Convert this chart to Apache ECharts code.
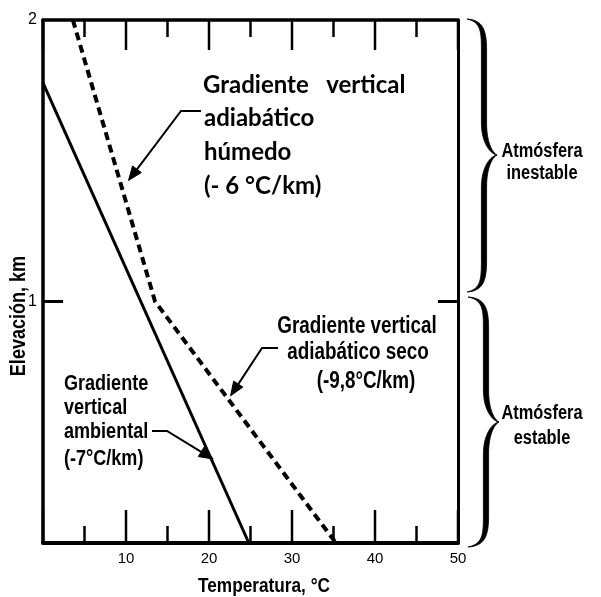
<!DOCTYPE html>
<html>
<head>
<meta charset="utf-8">
<script src="https://cdn.jsdelivr.net/npm/echarts@6/dist/echarts.min.js"></script>
<style>
  html, body { margin: 0; padding: 0; background: #fff; }
  #chart { width: 601px; height: 597px; }
</style>
</head>
<body>
<div id="chart"></div>
<script>
// Environmental lapse rate: temperature (°C) against elevation (km)
const ambientTemp = [0, 24.8];
const ambientElev = [1.777, 0.142];
// Dry adiabatic below the bend, moist adiabatic above it
const adiabaticTemp = [3.6, 13.5, 35.3];
const adiabaticElev = [2.0, 1.0, 0.142];
// Axis ticks
const tempTicks = [10, 20, 30, 40, 50];
const tempMajorTicks = [0, 10, 20, 30, 40, 50];
const tempMinorTicks = [5, 15, 25, 35, 45];
const elevTicks = [1, 2];
const elevInnerTicks = [1];
// Points on the lines that the label pointers touch (°C, km)
const pointerTips = [[10.3, 1.43], [22.6, 0.665], [20.5, 0.44]];

const X_MIN = 0, X_MAX = 50, Y_MIN = 0.142, Y_MAX = 2;

const SANS = "'Liberation Sans', Arial, Helvetica, sans-serif";
const HUMANIST = "Lato, 'Open Sans', sans-serif";
const CONDENSE = 0.82;   // horizontal squeeze for the condensed labels

function pairs(xs, ys) { return xs.map((x, i) => [x, ys[i]]); }

const chart = echarts.init(document.getElementById('chart'), null, { renderer: 'canvas' });

const frameLine = (w) => ({ show: true, onZero: false, lineStyle: { color: '#000', width: w } });

// ---- text and bracket helpers (pixel layout) ----
function text(str, x, y, opt) {
  const sx = opt.condensed ? CONDENSE : 1;
  return {
    type: 'text', x: x, y: y, z: 10,
    rotation: opt.rotation || 0, scaleX: sx, scaleY: 1,
    style: {
      text: str, fill: '#000',
      font: (opt.weight || 'bold') + ' ' + opt.size + 'px ' + opt.family,
      align: opt.align || 'left', verticalAlign: 'middle'
    }
  };
}

function sampleSegments(segs) {
  const pts = [];
  let cx = 0, cy = 0;
  segs.forEach(s => {
    if (s[0] === 'M' || s[0] === 'L') {
      cx = s[1]; cy = s[2]; pts.push([cx, cy]);
    } else {
      const [, x1, y1, x2, y2, x3, y3] = s;
      for (let k = 1; k <= 16; k++) {
        const t = k / 16, m = 1 - t;
        pts.push([
          m * m * m * cx + 3 * m * m * t * x1 + 3 * m * t * t * x2 + t * t * t * x3,
          m * m * m * cy + 3 * m * m * t * y1 + 3 * m * t * t * y2 + t * t * t * y3
        ]);
      }
      cx = x3; cy = y3;
    }
  });
  return pts;
}

// curly bracket opening to the left, point to the right; tapered outline
function brace(x0, yTop, yBot, yMid, x1, tip, h, w) {
  const o = x1 + w, i = x1 - w;
  const segs = [
    ['M', x0, yTop],
    ['C', x1, yTop + 1, o, yTop + h * 0.4, o, yTop + h],
    ['L', o, yMid - h],
    ['C', o, yMid - h * 0.35, tip - 4, yMid - 2, tip, yMid],
    ['C', tip - 4, yMid + 2, o, yMid + h * 0.35, o, yMid + h],
    ['L', o, yBot - h],
    ['C', o, yBot - h * 0.4, x1, yBot - 1, x0, yBot],
    ['C', x1 - 3, yBot - 3, i, yBot - h * 0.4, i, yBot - h],
    ['L', i, yMid + h],
    ['C', i, yMid + h * 0.4, tip - 7, yMid + 1, tip, yMid],
    ['C', tip - 7, yMid - 1, i, yMid - h * 0.4, i, yMid - h],
    ['L', i, yTop + h],
    ['C', i, yTop + h * 0.4, x1 - 3, yTop + 3, x0, yTop]
  ];
  return { type: 'polygon', z: 10, shape: { points: sampleSegments(segs) },
           style: { fill: '#000', stroke: '#000', lineWidth: 0.8 } };
}

// ---- pointers and inward frame ticks, placed through the cartesian coords ----
const pointerLeads = [
  [[201, 111], [181, 111]],
  [[278, 348], [262, 348]],
  [[152, 431], [167, 431]]
];

function pointerShapes(lead, bend, tip) {
  const dx = tip[0] - bend[0], dy = tip[1] - bend[1];
  const len = Math.hypot(dx, dy), ux = dx / len, uy = dy / len;
  const headL = 14, headW = 5.5;
  const bx = tip[0] - ux * headL, by = tip[1] - uy * headL;
  return [
    { type: 'polyline', shape: { points: [lead, bend, [bx, by]] },
      style: { stroke: '#000', lineWidth: 2, fill: 'none' } },
    { type: 'polygon',
      shape: { points: [tip, [bx - uy * headW, by + ux * headW], [bx + uy * headW, by - ux * headW]] },
      style: { fill: '#000', stroke: '#000', lineWidth: 1 } }
  ];
}

// tick mark as a thin filled bar
function bar(x, y, w, h) {
  return { type: 'rect', shape: { x: x, y: y, width: w, height: h },
           style: { fill: '#000', stroke: null } };
}

function renderAnnotations(params, api) {
  let children = [];
  // temperature ticks pointing into the frame, top and bottom
  tempMajorTicks.forEach(v => {
    const b = api.coord([v, Y_MIN]), t = api.coord([v, Y_MAX]);
    children.push(bar(b[0] - 1.25, b[1] - 33, 2.5, 33));
    children.push(bar(t[0] - 1.25, t[1], 2.5, 30));
  });
  tempMinorTicks.forEach(v => {
    const b = api.coord([v, Y_MIN]), t = api.coord([v, Y_MAX]);
    children.push(bar(b[0] - 1.25, b[1] - 17, 2.5, 17));
    children.push(bar(t[0] - 1.25, t[1], 2.5, 17));
  });
  // elevation ticks on both side frames
  elevInnerTicks.forEach(v => {
    const l = api.coord([X_MIN, v]), r = api.coord([X_MAX, v]);
    children.push(bar(l[0], l[1] - 1.5, 20, 3));
    children.push(bar(r[0] - 20, r[1] - 1.5, 20, 3));
  });
  pointerTips.forEach((t, k) => {
    children = children.concat(pointerShapes(pointerLeads[k][0], pointerLeads[k][1], api.coord(t)));
  });
  return { type: 'group', children: children };
}

const big = { size: 24, family: HUMANIST };
const seco = { size: 23, family: SANS, condensed: true, align: 'center' };
const amb = { size: 22, family: SANS, condensed: true };
const sm = { size: 20, family: SANS, condensed: true, align: 'center' };

const graphics = [
  // axis titles
  text('Elevación, km', 19, 316, { size: 22, family: SANS, condensed: true, align: 'center', rotation: Math.PI / 2 }),
  text('Temperatura, °C', 264, 586, { size: 21, family: SANS, condensed: true, align: 'center' }),

  // moist adiabatic label
  text('Gradiente   vertical', 203, 85, big),
  text('adiabático', 204, 118, big),
  text('húmedo', 204, 152, big),
  text('(- 6 °C/km)', 204, 186, big),

  // dry adiabatic label
  text('Gradiente vertical', 357, 327, seco),
  text('adiabático seco', 358, 353, seco),
  text('(-9,8°C/km)', 366, 382, seco),

  // environmental label
  text('Gradiente', 64, 384, amb),
  text('vertical', 64, 408, amb),
  text('ambiental', 64, 432, amb),
  text('(-7°C/km)', 64, 459, amb),

  // stability brackets
  brace(467, 19, 292, 155, 484, 497, 32, 2.6),
  brace(468, 297, 547, 422, 486, 499, 32, 2.6),
  text('Atmósfera', 542, 151, sm),
  text('inestable', 542, 173, sm),
  text('Atmósfera', 542, 413, sm),
  text('estable', 542, 438, sm)
];

chart.setOption({
  animation: false,
  backgroundColor: '#fff',
  grid: { left: 43, right: 143, top: 20, bottom: 54, containLabel: false },
  xAxis: [
    {
      type: 'value', position: 'bottom', min: X_MIN, max: X_MAX, interval: 10,
      axisLine: frameLine(4),
      axisTick: { show: false }, minorTick: { show: false },
      axisLabel: { show: true, margin: 8, color: '#000', fontSize: 15, fontFamily: SANS,
                   customValues: tempTicks },
      splitLine: { show: false }, minorSplitLine: { show: false }
    },
    {
      type: 'value', position: 'top', min: X_MIN, max: X_MAX, interval: 10,
      axisLine: frameLine(3.5),
      axisTick: { show: false }, minorTick: { show: false },
      axisLabel: { show: false },
      splitLine: { show: false }, minorSplitLine: { show: false }
    }
  ],
  yAxis: [
    {
      type: 'value', position: 'left', min: Y_MIN, max: Y_MAX,
      axisLine: frameLine(3.5),
      axisTick: { show: false },
      axisLabel: { show: true, margin: 6, color: '#000', fontSize: 16, fontFamily: SANS,
                   customValues: elevTicks },
      splitLine: { show: false }
    },
    {
      type: 'value', position: 'right', min: Y_MIN, max: Y_MAX,
      axisLine: frameLine(3),
      axisTick: { show: false },
      axisLabel: { show: false },
      splitLine: { show: false }
    }
  ],
  graphic: { elements: graphics },
  series: [
    {
      name: 'Gradiente vertical ambiental', type: 'line',
      data: pairs(ambientTemp, ambientElev),
      symbol: 'none',
      lineStyle: { color: '#000', width: 3 }
    },
    {
      name: 'Gradiente vertical adiabático', type: 'line',
      data: pairs(adiabaticTemp, adiabaticElev),
      symbol: 'none',
      lineStyle: { color: '#000', width: 4, type: [8, 5] }
    },
    {
      name: 'marcas', type: 'custom', coordinateSystem: 'cartesian2d',
      data: [[X_MIN, Y_MIN]], silent: true, z: 10, clip: false,
      renderItem: renderAnnotations
    }
  ]
});
</script>
</body>
</html>
